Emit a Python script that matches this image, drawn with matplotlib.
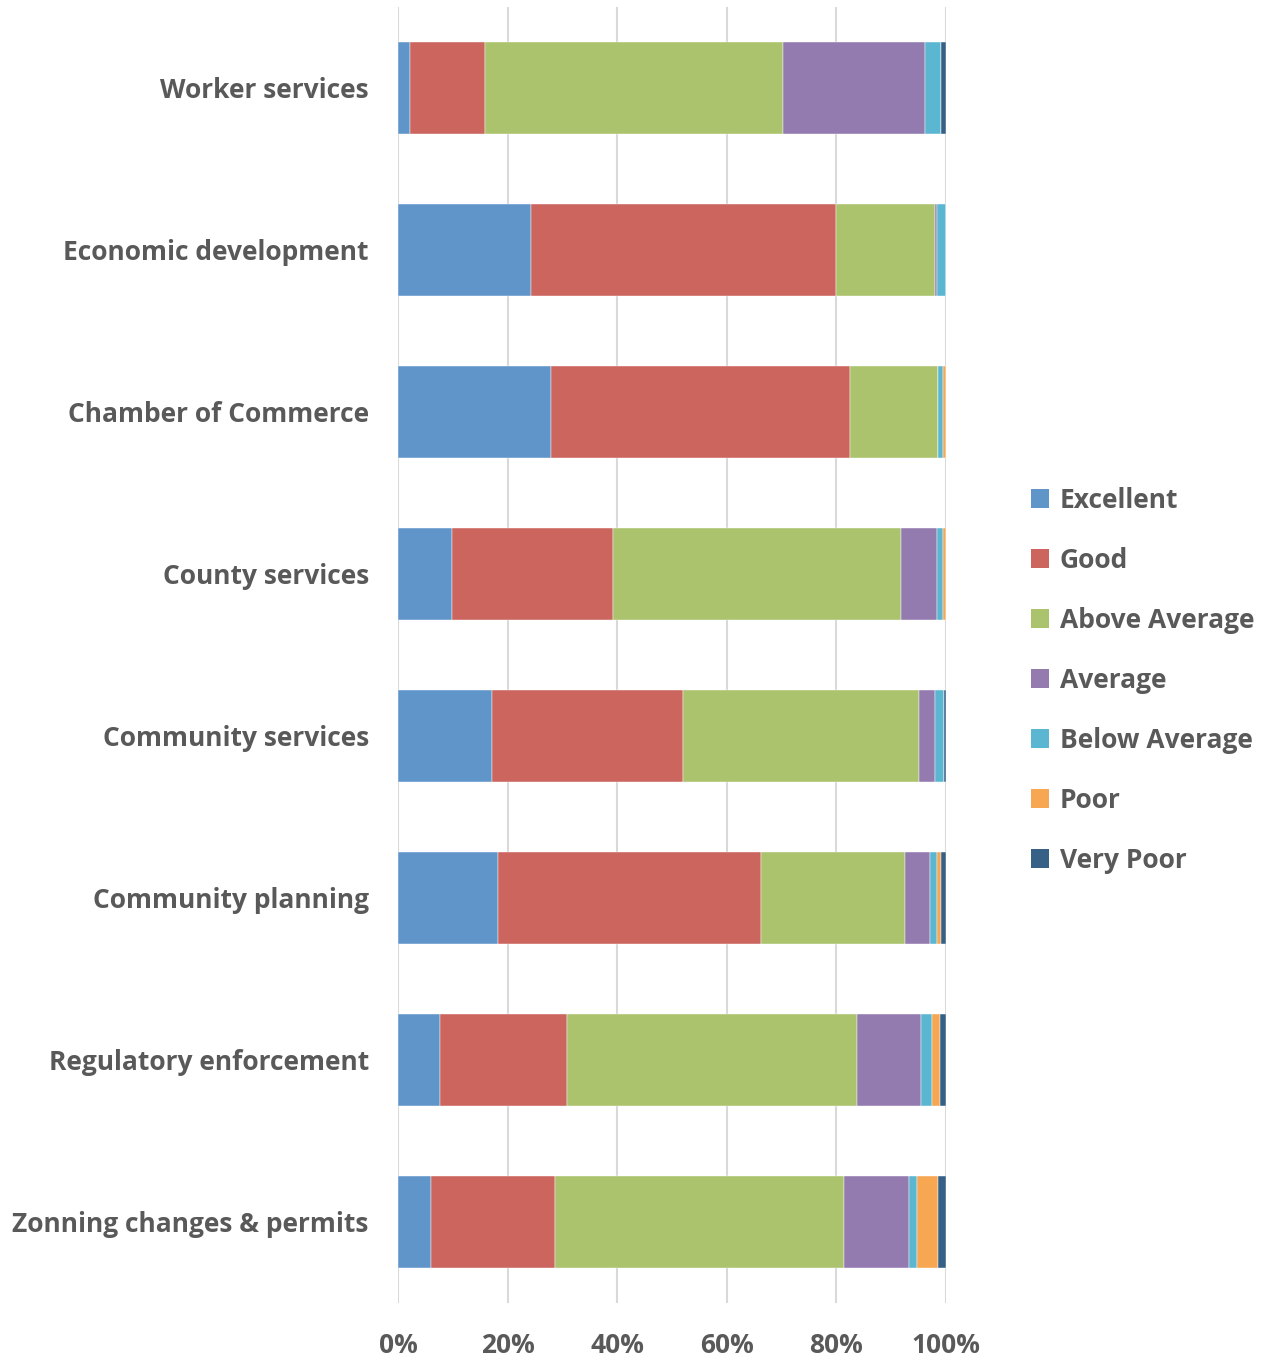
import numpy as np
import matplotlib.pyplot as plt
from matplotlib.patches import Patch

plt.rcParams['font.family'] = ['Open Sans', 'DejaVu Sans']

# Survey categories (top to bottom) and share of responses per rating (%)
categories = [
    "Worker services",
    "Economic development",
    "Chamber of Commerce",
    "County services",
    "Community services",
    "Community planning",
    "Regulatory enforcement",
    "Zonning changes & permits",
]
ratings = ["Excellent", "Good", "Above Average", "Average",
           "Below Average", "Poor", "Very Poor"]

excellent = [2.1, 24.2, 27.9, 9.8, 17.1, 18.2, 7.6, 6.1]
good = [13.8, 55.7, 54.6, 29.4, 34.9, 48.0, 23.2, 22.5]
above_average = [54.4, 18.1, 16.0, 52.6, 43.1, 26.3, 52.9, 52.7]
average = [25.9, 0.4, 0.0, 6.6, 2.9, 4.5, 11.8, 11.9]
below_average = [2.8, 1.6, 1.0, 1.1, 1.6, 1.4, 2.0, 1.5]
poor = [0.0, 0.0, 0.5, 0.5, 0.0, 0.6, 1.4, 3.8]
very_poor = [1.0, 0.0, 0.0, 0.0, 0.4, 1.0, 1.1, 1.5]

colors = ["#6095C9", "#CC655E", "#AAC36C", "#937BB0",
          "#5BB7D1", "#F7A652", "#376087"]

series = [excellent, good, above_average, average,
          below_average, poor, very_poor]

fig = plt.figure(figsize=(12.74, 13.59), dpi=100)
ax = fig.add_axes([398 / 1274, 1 - 1303 / 1359, 548 / 1274, 1296 / 1359])

y = np.arange(len(categories))
left = np.zeros(len(categories))
for vals, col, name in zip(series, colors, ratings):
    vals = np.array(vals) / 100.0
    ax.barh(y, vals, left=left, height=0.57, color=col, label=name,
            edgecolor="white", linewidth=0.3, zorder=3)
    left += vals

ax.set_ylim(len(categories) - 0.5, -0.5)
ax.set_xlim(0, 1)
ax.set_xticks(np.linspace(0, 1, 6))
ax.set_xticklabels([f"{int(v)}%" for v in np.linspace(0, 100, 6)])
ax.set_yticks(y)
ax.set_yticklabels(categories)
ax.grid(axis="x", color="#D9D9D9", linewidth=1.5, zorder=0)
ax.tick_params(length=0, labelsize=19, labelcolor="#595959")
ax.tick_params(axis="x", pad=21)
ax.tick_params(axis="y", pad=21)
for lbl in ax.get_xticklabels() + ax.get_yticklabels():
    lbl.set_fontweight("bold")
for s in ax.spines.values():
    s.set_visible(False)

handles = [Patch(facecolor=c, label=n) for c, n in zip(colors, ratings)]
fig.legend(handles=handles, loc="upper left",
           bbox_to_anchor=(1007 / 1274, 1 - 463 / 1359), frameon=False,
           prop={"size": 19, "weight": "bold"}, labelcolor="#595959",
           handlelength=0.7, handleheight=0.7, handletextpad=0.4,
           labelspacing=1.25)

fig.savefig("out.png", dpi=100)
